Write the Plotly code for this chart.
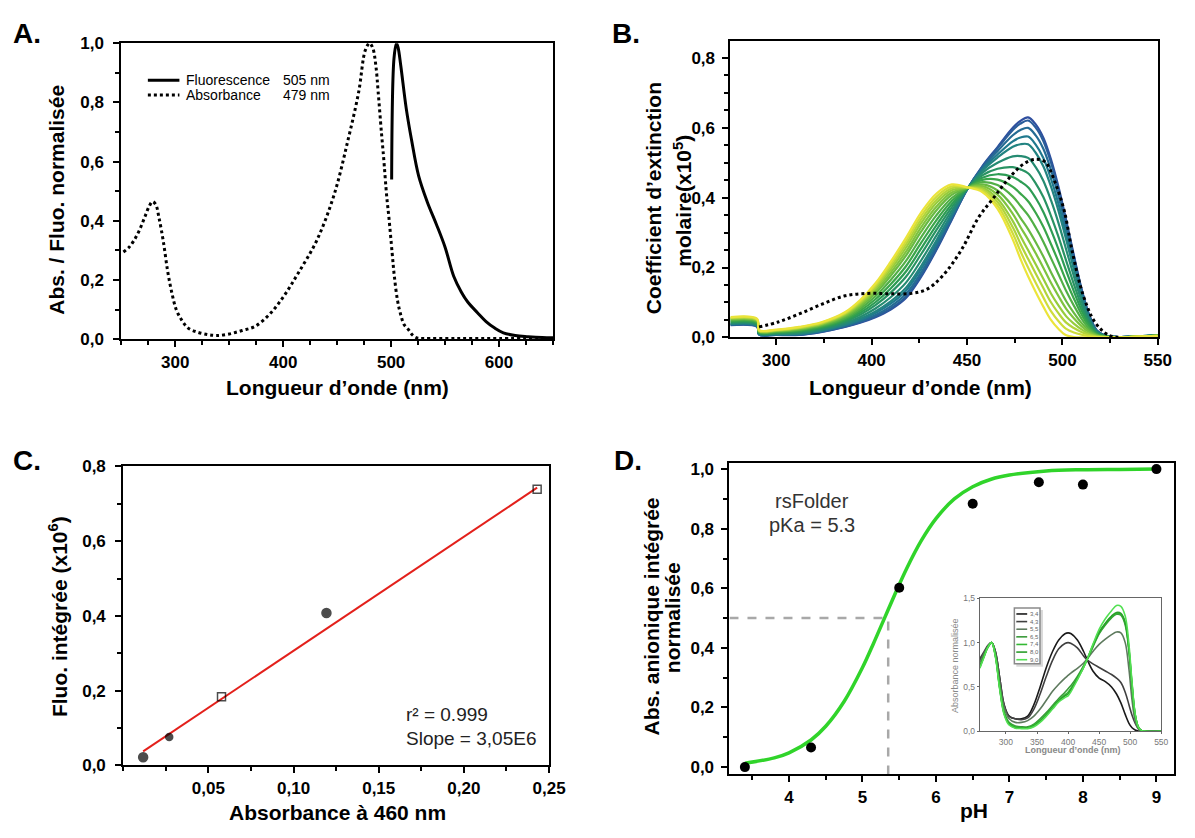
import plotly.graph_objects as go
from plotly.colors import sample_colorscale

# ---------------- DATA ----------------
# Panel A : normalised absorbance / fluorescence
abs_nm = [252, 257, 262, 267, 272, 276, 279, 282, 285, 289, 293, 297, 301, 306, 312, 320, 330, 338,
          350, 362, 374, 388, 401, 414, 431, 447, 460, 470, 476, 480, 483, 486, 488, 491, 493, 496,
          498, 501, 503, 506, 509, 512, 516, 520, 524, 530, 560, 600, 650]
abs_y = [0.295, 0.31, 0.335, 0.37, 0.415, 0.45, 0.465, 0.455, 0.41, 0.33, 0.23, 0.155, 0.10, 0.065,
         0.038, 0.025, 0.016, 0.013, 0.018, 0.03, 0.044, 0.087, 0.148, 0.224, 0.333, 0.486, 0.672,
         0.836, 0.975, 1.0, 0.984, 0.92, 0.836, 0.70, 0.617, 0.48, 0.41, 0.29, 0.213, 0.13, 0.082,
         0.05, 0.033, 0.014, 0.005, 0.003, 0.003, 0.003, 0.003]
flu_nm = [500.5, 502.7, 505, 506.5, 509, 514, 519, 525.5, 533.5, 542, 550, 558, 565, 571, 580, 588,
          596, 604, 615, 627, 640, 650]
flu_y = [0.54, 0.95, 1.0, 0.985, 0.923, 0.78, 0.672, 0.552, 0.464, 0.388, 0.311, 0.213, 0.16, 0.126,
         0.09, 0.06, 0.038, 0.022, 0.013, 0.009, 0.006, 0.005]
legend_a = ["Fluorescence", "Absorbance"]
legend_a_peaks = ["505 nm", "479 nm"]

# Panel B : molar extinction spectra (axis position units; tick labels as printed)
b_tickvals = [350, 400, 450, 500, 550]
b_ticktext = ["300", "400", "450", "500", "550"]
b_grid = [326, 340, 341, 350, 362, 374, 386, 394, 402, 410, 418, 426, 434, 442, 450, 458, 466, 474,
          478, 482, 486, 490, 494, 498, 502, 506, 510, 514, 518, 522, 530, 540, 550]
b_blue = [0.035, 0.030, 0.008, 0.007, 0.007, 0.016, 0.030, 0.042, 0.058, 0.080, 0.113, 0.174, 0.251,
          0.337, 0.423, 0.490, 0.545, 0.600, 0.620, 0.630, 0.610, 0.572, 0.51, 0.43, 0.335, 0.235,
          0.14, 0.065, 0.02, 0.006, 0.001, 0.003, 0.006]
b_yellow = [0.058, 0.053, 0.021, 0.022, 0.030, 0.044, 0.072, 0.107, 0.155, 0.217, 0.285, 0.358, 0.412,
            0.438, 0.43, 0.416, 0.368, 0.28, 0.225, 0.175, 0.13, 0.088, 0.05, 0.024, 0.006, 0.001,
            0.0, 0.0, 0.0, 0.0, 0.0, 0.002, 0.004]
b_peak_482 = [0.630, 0.621, 0.600, 0.575, 0.553, 0.514, 0.47, 0.43, 0.39, 0.35, 0.31, 0.28, 0.25,
              0.225, 0.20, 0.175]
bdot_x = [341, 351, 362, 374, 386, 398, 409, 421, 429, 437, 447, 456, 464, 472, 480, 486, 491, 496,
          501, 505, 511, 517, 524, 531]
bdot_y = [0.030, 0.044, 0.067, 0.095, 0.119, 0.126, 0.125, 0.126, 0.138, 0.175, 0.25, 0.343, 0.40,
          0.456, 0.498, 0.51, 0.502, 0.446, 0.362, 0.25, 0.119, 0.044, 0.007, 0.0]

# Panel C : integrated fluorescence vs absorbance
c_abs = [0.0117, 0.0270, 0.0577, 0.1193, 0.243]
c_flu = [0.022, 0.076, 0.184, 0.408, 0.739]
c_symbols = ["circle", "circle", "square-open", "circle", "square-open"]
c_fit_x = [0.0117, 0.243]
c_fit_y = [0.0376, 0.743]

# Panel D : pH titration
d_ph = [3.4, 4.3, 5.5, 6.5, 7.4, 8.0, 9.0]
d_val = [0.0, 0.0655, 0.602, 0.884, 0.956, 0.948, 1.0]
d_fit_ph = [3.4, 3.8, 4.0, 4.3, 4.5, 4.75, 5.0, 5.15, 5.3, 5.45, 5.6, 5.8, 6.0, 6.25, 6.5, 6.75,
            7.0, 7.5, 8.0, 8.5, 9.0]
d_fit_y = [0.013, 0.031, 0.048, 0.091, 0.137, 0.22, 0.334, 0.415, 0.5, 0.585, 0.666, 0.76, 0.834,
           0.9, 0.941, 0.966, 0.98, 0.994, 0.998, 0.999, 1.0]
d_pka = 5.35
d_half = 0.5
d_xrange = [3.19, 9.24]
d_yrange = [-0.024, 1.019]

# Inset of D : normalised absorbance spectra at each pH
ins_nm = [258, 265, 271, 277, 283, 290, 297, 305, 315, 325, 335, 345, 355, 365, 375, 385, 395, 400,
          405, 415, 425, 430, 440, 450, 460, 470, 478, 485, 492, 498, 503, 508, 513, 518, 525, 550]
ins_labels = ["3,4", "4,3", "5,5", "6,5", "7,4", "8,0", "9,0"]
ins_colors = ["#1a1a1a", "#404040", "#5e7a5e", "#3a9a3a", "#33b833", "#2a9e2a", "#52e052"]
ins_34 = [0.80, 0.88, 0.96, 1.0, 0.90, 0.60, 0.30, 0.17, 0.14, 0.14, 0.17, 0.30, 0.50, 0.72, 0.90,
          1.03, 1.10, 1.11, 1.10, 1.03, 0.90, 0.82, 0.68, 0.60, 0.56, 0.50, 0.42, 0.32, 0.19, 0.09,
          0.04, 0.015, 0.003, 0.0, 0.0, 0.0]
ins_43 = [0.82, 0.90, 0.97, 1.0, 0.90, 0.60, 0.30, 0.17, 0.14, 0.13, 0.15, 0.25, 0.42, 0.62, 0.80,
          0.93, 0.99, 1.0, 0.99, 0.94, 0.85, 0.81, 0.76, 0.72, 0.68, 0.64, 0.60, 0.55, 0.44, 0.30,
          0.18, 0.09, 0.03, 0.005, 0.0, 0.0]
ins_55 = [0.78, 0.88, 0.96, 1.0, 0.88, 0.55, 0.27, 0.14, 0.10, 0.10, 0.12, 0.17, 0.25, 0.35, 0.45,
          0.53, 0.60, 0.63, 0.66, 0.71, 0.77, 0.81, 0.90, 0.98, 1.04, 1.09, 1.12, 1.11, 1.0, 0.70,
          0.35, 0.12, 0.03, 0.005, 0.0, 0.0]
ins_65 = [0.74, 0.86, 0.95, 1.0, 0.86, 0.50, 0.22, 0.10, 0.06, 0.05, 0.05, 0.08, 0.14, 0.21, 0.29,
          0.37, 0.44, 0.48, 0.52, 0.62, 0.74, 0.80, 0.95, 1.10, 1.20, 1.28, 1.32, 1.31, 1.20, 0.90,
          0.50, 0.18, 0.05, 0.01, 0.0, 0.0]
ins_74 = [0.73, 0.85, 0.95, 1.0, 0.85, 0.49, 0.21, 0.09, 0.05, 0.04, 0.04, 0.07, 0.12, 0.19, 0.27,
          0.35, 0.41, 0.44, 0.49, 0.60, 0.73, 0.80, 0.96, 1.11, 1.21, 1.29, 1.33, 1.32, 1.22, 0.92,
          0.52, 0.19, 0.05, 0.01, 0.0, 0.0]
ins_80 = [0.72, 0.85, 0.95, 1.0, 0.85, 0.48, 0.20, 0.08, 0.04, 0.035, 0.035, 0.06, 0.11, 0.18, 0.26,
          0.34, 0.40, 0.42, 0.47, 0.59, 0.72, 0.80, 0.97, 1.12, 1.22, 1.30, 1.34, 1.33, 1.23, 0.93,
          0.53, 0.19, 0.05, 0.01, 0.0, 0.0]
ins_90 = [0.71, 0.84, 0.95, 1.0, 0.84, 0.47, 0.19, 0.07, 0.035, 0.03, 0.03, 0.05, 0.10, 0.17, 0.25,
          0.33, 0.38, 0.40, 0.45, 0.58, 0.72, 0.80, 0.98, 1.15, 1.27, 1.36, 1.42, 1.41, 1.30, 0.98,
          0.55, 0.20, 0.05, 0.01, 0.0, 0.0]
ins_series = [ins_34, ins_43, ins_55, ins_65, ins_74, ins_80, ins_90]

# ---------------- LAYOUT HELPERS ----------------
W, H = 1195, 838
FONT = "Liberation Sans, Arial, sans-serif"


def px(x):
    return x / W


def py(y):
    return 1 - y / H


def axis(dom, rng, anchor, standoff=0, **kw):
    d = dict(domain=dom, range=rng, anchor=anchor, showline=True, linecolor="black", linewidth=2,
             mirror=True, ticks="outside", ticklen=6, tickwidth=2, tickcolor="black",
             showgrid=False, zeroline=False, ticklabelstandoff=standoff,
             tickfont=dict(family=FONT, size=17, color="black", weight="bold"))
    d.update(kw)
    return d


def minor(dt, t0):
    return dict(ticks="outside", ticklen=4, tickwidth=1.5, tickcolor="black", dtick=dt, tick0=t0,
                showgrid=False)


fig = go.Figure()

# ---- Panel A ----
fig.add_trace(go.Scatter(x=flu_nm, y=flu_y, mode="lines", name=legend_a[0], line_shape="spline",
                         line=dict(color="black", width=3), xaxis="x", yaxis="y", showlegend=False))
fig.add_trace(go.Scatter(x=abs_nm, y=abs_y, mode="lines", name=legend_a[1], line_shape="spline",
                         line=dict(color="black", width=3, dash="dot"), xaxis="x", yaxis="y",
                         showlegend=False))

# ---- Panel B ----
n_b = len(b_peak_482)
cols_b = sample_colorscale(
    [[0, "#2f4f9f"], [0.22, "#1f7d8c"], [0.5, "#2fa04c"], [0.78, "#8fca3c"], [1, "#ebe43a"]],
    [i / (n_b - 1) for i in range(n_b)])
i482 = b_grid.index(482)
for i, pk in enumerate(b_peak_482):
    f = (pk - b_yellow[i482]) / (b_blue[i482] - b_yellow[i482])
    yy = [yl + f * (bl - yl) for bl, yl in zip(b_blue, b_yellow)]
    fig.add_trace(go.Scatter(x=b_grid, y=yy, mode="lines", line_shape="spline", showlegend=False,
                             line=dict(color=cols_b[i], width=2.2), xaxis="x2", yaxis="y2"))
fig.add_trace(go.Scatter(x=bdot_x, y=bdot_y, mode="lines", line_shape="spline", showlegend=False,
                         line=dict(color="black", width=3, dash="dot"), xaxis="x2", yaxis="y2"))

# ---- Panel C ----
fig.add_trace(go.Scatter(x=c_fit_x, y=c_fit_y, mode="lines", showlegend=False,
                         line=dict(color="#e3201b", width=2), xaxis="x3", yaxis="y3"))
fig.add_trace(go.Scatter(x=c_abs, y=c_flu, mode="markers", showlegend=False,
                         marker=dict(symbol=c_symbols, size=[9, 7, 8, 9, 8], color="black",
                                     line=dict(color="black", width=1.5)),
                         xaxis="x3", yaxis="y3"))

# ---- Panel D ----
fig.add_trace(go.Scatter(x=[d_xrange[0], d_pka, d_pka], y=[d_half, d_half, d_yrange[0]],
                         mode="lines", showlegend=False,
                         line=dict(color="#a8a8a8", width=2.5, dash="dash"), xaxis="x4", yaxis="y4"))
fig.add_trace(go.Scatter(x=d_fit_ph, y=d_fit_y, mode="lines", line_shape="spline", showlegend=False,
                         line=dict(color="#30d42a", width=3.5), xaxis="x4", yaxis="y4"))
fig.add_trace(go.Scatter(x=d_ph, y=d_val, mode="markers", showlegend=False,
                         marker=dict(size=10, color="black"), xaxis="x4", yaxis="y4"))

# ---- Inset ----
for lab, col, ser in zip(ins_labels, ins_colors, ins_series):
    fig.add_trace(go.Scatter(x=ins_nm, y=ser, mode="lines", line_shape="spline", name=lab,
                             line=dict(color=col, width=1.6), xaxis="x5", yaxis="y5",
                             showlegend=False))

# ---------------- AXES ----------------
A_x, A_y = [px(123), px(561)], [py(338), py(35)]
B_x, B_y = [px(741), px(1174.5)], [py(336), py(33)]
C_x, C_y = [px(125), px(557)], [py(774), py(468)]
D_x, D_y = [px(740), px(1191)], [py(783), py(465)]
I_x, I_y = [px(994), px(1178)], [py(739), py(603)]

layout = dict(
    width=W, height=H, autosize=False, margin=dict(l=0, r=0, t=0, b=0),
    paper_bgcolor="white", plot_bgcolor="white", separators=", ", showlegend=False,
    font=dict(family=FONT, color="black"),
    xaxis=axis(A_x, [250, 650], "y", tickvals=[300, 400, 500, 600], minor=minor(25, 250)),
    yaxis=axis(A_y, [0, 1.0], "x", 6, tickvals=[0, 0.2, 0.4, 0.6, 0.8, 1.0], tickformat=".1f",
               minor=minor(0.1, 0)),
    xaxis2=axis(B_x, [326, 550], "y2", tickvals=b_tickvals, ticktext=b_ticktext,
                minor=minor(25, 350)),
    yaxis2=axis(B_y, [0, 0.848], "x2", 4, tickvals=[0, 0.2, 0.4, 0.6, 0.8], tickformat=".1f",
                minor=minor(0.05, 0)),
    xaxis3=axis(C_x, [0, 0.25], "y3", tickvals=[0.05, 0.10, 0.15, 0.20, 0.25], tickformat=".2f",
                minor=minor(0.025, 0)),
    yaxis3=axis(C_y, [0, 0.8], "x3", 6, tickvals=[0, 0.2, 0.4, 0.6, 0.8], tickformat=".1f",
                minor=minor(0.1, 0)),
    xaxis4=axis(D_x, d_xrange, "y4", tickvals=[4, 5, 6, 7, 8, 9], minor=minor(0.5, 3.5)),
    yaxis4=axis(D_y, d_yrange, "x4", 4, tickvals=[0, 0.2, 0.4, 0.6, 0.8, 1.0], tickformat=".1f",
                minor=minor(0.1, 0)),
    xaxis5=dict(domain=I_x, range=[258, 550], anchor="y5", showline=True, linecolor="#666",
                linewidth=1.2, mirror=True, ticks="outside", ticklen=2, tickcolor="#666",
                showgrid=False, zeroline=False, tickvals=[300, 350, 400, 450, 500, 550],
                tickfont=dict(family=FONT, size=8.5, color="#777")),
    yaxis5=dict(domain=I_y, range=[0, 1.5], anchor="x5", showline=True, linecolor="#666",
                linewidth=1.2, mirror=True, ticks="outside", ticklen=2, tickcolor="#666",
                showgrid=False, zeroline=False, tickvals=[0, 0.5, 1.0, 1.5], tickformat=".1f",
                tickfont=dict(family=FONT, size=8.5, color="#777")),
)
fig.update_layout(**layout)

# ---------------- TEXT & LEGEND KEYS ----------------
ann = []
shapes = []


def text(x, y, s, size, bold=True, angle=0, color="black", xanchor="center", yanchor="middle"):
    ann.append(dict(x=px(x), y=py(y), xref="paper", yref="paper", text=s, showarrow=False,
                    textangle=angle, xanchor=xanchor, yanchor=yanchor,
                    font=dict(family=FONT, size=size, color=color,
                              weight="bold" if bold else "normal")))


def key(x0, x1, y, color, width, dash="solid"):
    shapes.append(dict(type="line", xref="paper", yref="paper", x0=px(x0), x1=px(x1),
                       y0=py(y), y1=py(y), line=dict(color=color, width=width, dash=dash)))


# panel letters
text(11, 25, "A.", 28, xanchor="left")
text(619, 25, "B.", 28, xanchor="left")
text(11, 462, "C.", 28, xanchor="left")
text(621, 462, "D.", 28, xanchor="left")

# axis titles
text(342, 387, "Longueur d’onde (nm)", 21)
text(57, 195, "Abs. / Fluo. normalisée", 21, angle=-90)
text(934, 387, "Longueur d’onde (nm)", 21)
text(663, 194, "Coefficient d’extinction", 21, angle=-90)
text(692, 196, "molaire(x10<sup>5</sup>)", 21, angle=-90)
text(342, 822, "Absorbance à 460 nm", 21)
text(59, 622, "Fluo. intégrée (x10<sup>6</sup>)", 21, angle=-90)
text(988, 820, "pH", 21)
text(661, 622, "Abs. anionique intégrée", 21, angle=-90)
text(683, 623, "normalisée", 21, angle=-90)

# legend of panel A
key(150, 182, 73, "black", 3)
key(150, 182, 88, "black", 3, "dot")
for i, (nm, pk) in enumerate(zip(legend_a, legend_a_peaks)):
    text(187, 73 + 15 * i, nm, 14, bold=False, xanchor="left")
    text(285, 73 + 15 * i, pk, 14, bold=False, xanchor="left")

# panel C statistics
text(410, 722, "r² = 0.999", 19, bold=False, xanchor="left", color="#222")
text(410, 746, "Slope = 3,05E6", 19, bold=False, xanchor="left", color="#222")

# panel D text
text(824, 503, "rsFolder", 20, bold=False, color="#333")
text(824, 528, "pKa = 5.3", 20, bold=False, color="#333")

# inset titles
text(969, 672, "Absorbance normalisée", 9, bold=False, angle=-90, color="#888")
text(1088, 758, "Longueur d’onde (nm)", 9, bold=True, color="#888")

# inset legend box (with soft shadow) and keys
shapes.append(dict(type="rect", xref="paper", yref="paper", x0=px(1031), x1=px(1058),
                   y0=py(673), y1=py(615), line=dict(width=0), fillcolor="#d8d8d8"))
shapes.append(dict(type="rect", xref="paper", yref="paper", x0=px(1029), x1=px(1055),
                   y0=py(670), y1=py(613), line=dict(color="#8a8a8a", width=1.5),
                   fillcolor="white"))
for i, (lab, col) in enumerate(zip(ins_labels, ins_colors)):
    yk = 619 + 7.8 * i
    key(1031, 1042, yk, col, 1.6)
    text(1043, yk, lab, 6, bold=False, xanchor="left", color="#666")

fig.update_layout(annotations=ann, shapes=shapes)
fig.write_html(
    "out.html",
    config={"displayModeBar": False, "responsive": False},
    post_script="document.body.style.margin='0px';document.body.style.overflow='hidden';"
                "document.documentElement.style.overflow='hidden';",
)
